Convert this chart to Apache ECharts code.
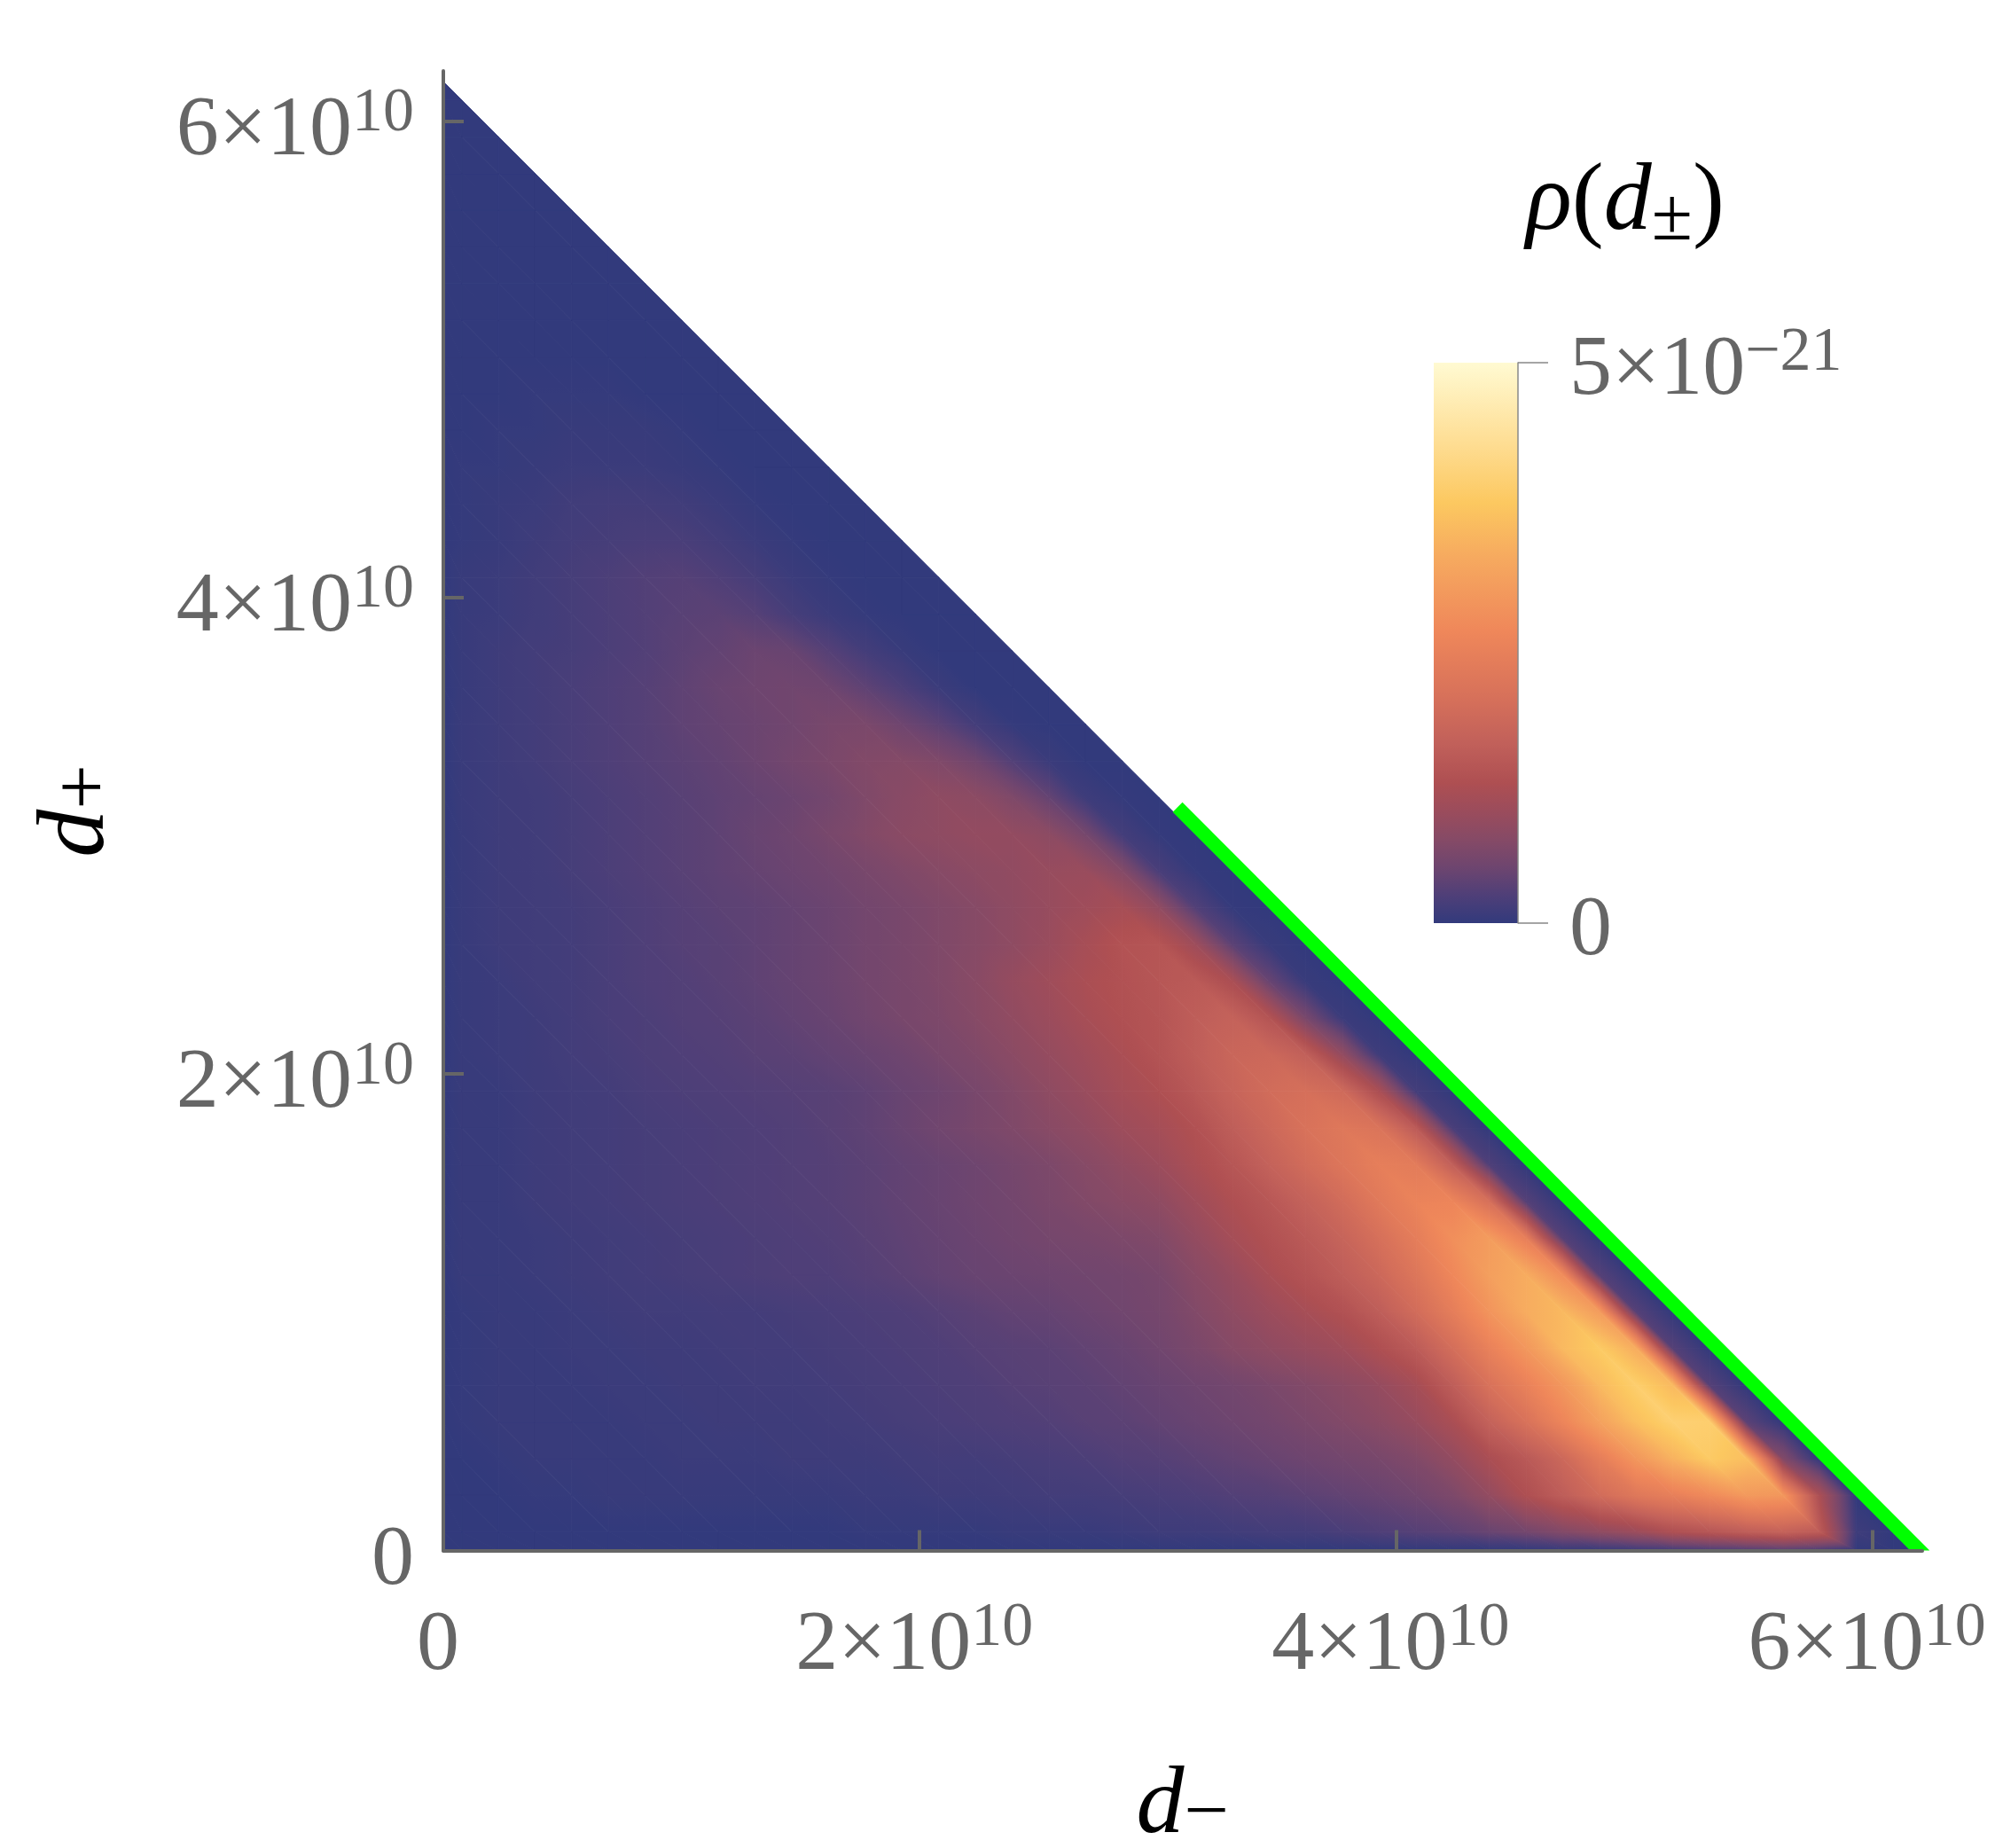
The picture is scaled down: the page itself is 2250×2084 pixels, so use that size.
<!DOCTYPE html>
<html>
<head>
<meta charset="utf-8">
<style>
  html, body { margin: 0; background: #fff; }
  #chart { width: 2250px; height: 2084px; }
</style>
<script src="https://cdn.jsdelivr.net/npm/echarts@6/dist/echarts.min.js"></script>
</head>
<body>
<div id="chart"></div>
<script>
// axis ticks
const axisTicks = [0, 2e10, 4e10, 6e10];
const colorbarTicks = [0, 5e-21];
const axisMax = 6.21e10;
const triangleLeg = 6.165e10;
const greenEdge = [3.083e10, 3.12e10, 6.2e10, 0];

// colour scale of the legend, position in percent of 5e-21
const rampPos = [0, 5, 10, 15, 20, 25, 32, 40, 52, 65, 75, 85, 100];
const rampHex = ['#323a7c', '#4f3f78', '#6e456f', '#864a66', '#9b4c5c', '#ae4f52', '#c1605a',
  '#d6705a', '#ef875a', '#f6a95f', '#fcc860', '#fedc90', '#fffad2'];

// density, percent of 5e-21. first row is half a step above the d- axis,
// each row one point shorter because of the diagonal, last point of a row sits on the diagonal
const densityRows = [
  [0,0,0,0,0,0,0,0,0,0,0,.5,.5,.5,.5,1,1,1,1.5,2,2,2.5,3,3,4,5,6,7,9,11,14,17,20,25,28,31,33,30,2,0],
  [0,0,.5,.5,1,1,1,1,1,1,1,1.5,1.5,2,2,2.5,3,3,3.5,4,4.5,5.5,6,7,8,9,10.5,13,18,25,31,38,44,48,53,59,58,24,0],
  [0,.5,1,1,1,1,1.5,1.5,1.5,2,2,2,2.5,3,3,3.5,4,4.5,5.5,6,7,8,9,10,11,12,14,18,24,29,36,47,58,68,76,72,14,0],
  [.5,1,1,1,1,1.5,1.5,2,2,2,2.5,3,3.5,4,4.5,5,5.5,6.5,7,8,9,10,11,12.5,14,16,19,24,33,41,51,62,72,79,78,7,0],
  [.5,1,1,1,1.5,1.5,2,2,2.5,2.5,3,3.5,4,4.5,5,6,6.5,7,8,9,10,11,12.5,14,16,18.5,22.5,31,41,49,58,70,78,70,6,0],
  [.5,1,1,1.5,1.5,2,2,2.5,3,3,3.5,4,4.5,5,6,6.5,7,8,9,10.5,12.5,15,17,19,21,25,30,39,49,58,70,76,66,6,0],
  [.5,1,1,1.5,2,2.5,2.5,3,3,3.5,4,4.5,5,6,7,8,8.5,9.5,10.5,11.5,14,17,20,23,26,31,38,47,57,66,70,60,6,0],
  [1,1,1.5,2,2.5,3,3.5,4,4.5,5,5,6,7,8,9,9.5,10,10.5,11,12,15.5,19,23.5,27,31,36,43,52,61,66,54,6,0],
  [1,1,1.5,2,2.5,3,3.5,4,4.5,5,5.5,6.5,7.5,8.5,9.5,10.5,11.5,12,13,14,18,22.5,26,29.5,34,40,47,55,60,48,6,0],
  [1,1,2,2.5,3,3.5,4,4.5,5,5.5,6,7,8,9,10,11,12.5,14,15.5,17,21,25,28.5,33,38,45,50,51,40,6,0],
  [1,1,2,2.5,3,3.5,4,4.5,5,5.5,6,7,8,9,10,11.5,13,15,17.5,20,24,28,33,38,43,47.5,46,32,5,0],
  [1,1,2,2.5,3,3.5,4,4.5,5,5.5,6.5,7.5,9,10.5,12,13.5,15.5,17.5,20.5,22.5,26,31,36,41,44,42,30,4,0],
  [1,1,2,2.5,3,4,4.5,5,5.5,6,6.5,7.5,9,10,12,14,17,19.5,22.5,25,29,34,38,39.5,37,24,3,0],
  [1,1.5,2,3,3.5,4.5,5,5.5,6.5,7,8,9,10,12,13.5,16,18.5,21,24,27,31,35,36,32,18,2,0],
  [1,1.5,2,3,4,4.5,5.5,6,7,8,9,10.5,12,13,15,17.5,20,23,25.5,27.5,31,33,27,12,1.5,0],
  [1,1.5,2.5,3,4,5,5.5,6.5,7.5,8.5,9.5,11,12,13.5,15.5,18.5,21,24,26,28,29.5,24,9,1,0],
  [1,2,2.5,3,4,5,6,6.5,7.5,8.5,9.5,11,12,13.5,15,17,19.5,23,26.5,27.5,20.5,7,1,0],
  [1,2,2.5,3,4,5,6,7,7.5,8.5,9.5,11,12,13.5,15,17,19,21,23,17.5,5.5,.5,0],
  [1,2,2.5,3.5,4.5,5.5,6.5,7.5,8.5,9.5,10.5,12,13.5,15,16.5,17.5,19,19.5,14.5,4,.5,0],
  [1,2,2.5,3.5,4.5,5.5,6.5,7.5,9,10,12,14,16,17,18,18,16.5,11.5,3,.5,0],
  [1.2,2,2.5,3.5,4.5,5.5,6.5,7.5,8.5,9.5,11,13.5,15.5,17,16.5,13.5,8.5,2,.5,0],
  [1.2,2,3,4,5,6,7,8,9.5,11,12.5,14,14.5,13.5,10.5,5.5,1.5,0,0],
  [1.2,2,3,4,5,6,7.5,8.5,9.5,10.5,12,12.5,10,7,3,.5,0,0],
  [1,2,3,4,5,6,7.5,9,10,10.5,10,7.5,4.5,1.5,0,0,0],
  [1,2,3,3.5,4.5,5.5,7,8,9.5,9,6,3,1,0,0,0],
  [1,1.5,2.5,3.5,4.5,5.5,6.5,7,6,3.5,1.5,.5,0,0,0],
  [1,1.5,2.5,3.5,4.5,5.5,6,5,3.5,1.5,.5,0,0,0],
  [.5,1,2,3,3.5,4,4,3,1.5,.5,0,0,0],
  [.5,1,1.5,2.5,3,3,2.5,1.5,.5,0,0,0],
  [.5,.5,1,1.5,1.5,1.5,1,.5,0,0,0],
  [0,.5,.5,1,1,1,.5,0,0,0],
  [0,0,.5,.5,.5,0,0,0,0],
  [0,0,0,0,0,0,0,0],
  [0,0,0,0,0,0,0],
  [0,0,0,0,0,0],
  [0,0,0,0,0],
  [0,0,0,0],
  [0,0,0],
  [0,0],
  [0]
];
// values right on the two axes
const leftEdge = new Array(42).fill(0);
const bottomEdge = [0,0,0,0,0,0,0,0,0,0,0,0,0,0,0,0,0,0,0,0,0,0,0,0,0,0,0,0,0,0,
  0,1,1,2,3,4,5,6,4,0,0,0];

const stepCount = densityRows.length;
const step = triangleLeg / stepCount;
const serif = '"Liberation Serif", "DejaVu Serif", serif';
const gray = '#666666';

const rampRgb = rampHex.map(h => [1, 3, 5].map(k => parseInt(h.substr(k, 2), 16)));

function rampColor(v) {
  v = Math.max(0, Math.min(100, v));
  let k = 0;
  while (k < rampPos.length - 2 && v > rampPos[k + 1]) k++;
  const t = (v - rampPos[k]) / (rampPos[k + 1] - rampPos[k]);
  const c = rampRgb[k].map((a, n) => Math.round(a + (rampRgb[k + 1][n] - a) * t));
  return 'rgb(' + c.join(',') + ')';
}

// sample points: on the axes, then half a step in, then every step, ending at the leg
function nodePos(n) {
  if (n === 0) return 0;
  return n > stepCount ? stepCount * step : (n - 0.5) * step;
}

function nodeValue(a, b) {
  if (a === 0) return leftEdge[b];
  if (b === 0) return bottomEdge[a];
  return densityRows[b - 1][a - 1];
}

function drawTriangle(params, api) {
  const nodes = [[api.value(2), api.value(3)], [api.value(4), api.value(5)], [api.value(6), api.value(7)]];
  const pts = nodes.map(n => api.coord([nodePos(n[0]), nodePos(n[1])]));
  const vals = nodes.map(n => nodeValue(n[0], n[1]));
  const [p0, p1, p2] = pts;
  const det = (p1[0] - p0[0]) * (p2[1] - p0[1]) - (p2[0] - p0[0]) * (p1[1] - p0[1]);
  const gx = ((vals[1] - vals[0]) * (p2[1] - p0[1]) - (vals[2] - vals[0]) * (p1[1] - p0[1])) / det;
  const gy = ((vals[2] - vals[0]) * (p1[0] - p0[0]) - (vals[1] - vals[0]) * (p2[0] - p0[0])) / det;
  const g2 = gx * gx + gy * gy;
  const low = Math.min(...vals), high = Math.max(...vals);
  let fill = rampColor(low);
  if (high > low) {
    // a triangle holds one linear slope, so one linear gradient shades it exactly
    const start = pts[vals.indexOf(low)];
    const range = high - low;
    const stops = [];
    for (let s = 0; s <= 6; s++) {
      stops.push({ offset: s / 6, color: rampColor(low + range * s / 6) });
    }
    fill = new echarts.graphic.LinearGradient(start[0], start[1],
      start[0] + gx * range / g2, start[1] + gy * range / g2, stops, true);
  }
  return { type: 'polygon', shape: { points: pts }, style: { fill: fill, stroke: fill, lineWidth: 1 } };
}

function drawGreen(params, api) {
  const a = api.coord([api.value(0), api.value(1)]);
  const b = api.coord([api.value(2), api.value(3)]);
  const w = 15.5;
  const dx = b[0] - a[0], dy = b[1] - a[1], len = Math.sqrt(dx * dx + dy * dy);
  const ox = dy / len * w / 2, oy = -dx / len * w / 2;
  const foot = w / Math.SQRT2;
  return {
    type: 'polygon',
    shape: { points: [[a[0] + ox, a[1] + oy], [b[0] + foot, b[1]], [b[0] - foot, b[1]], [a[0] - ox, a[1] - oy]] },
    style: { fill: '#00ff00' }
  };
}

function drawLegendBar(params, api) {
  const top = api.coord([0, colorbarTicks[1]]);
  const bottom = api.coord([1, colorbarTicks[0]]);
  const stops = rampPos.map((p, k) => ({ offset: 1 - p / 100, color: rampHex[k] })).reverse();
  return {
    type: 'rect',
    shape: { x: top[0], y: top[1], width: bottom[0] - top[0], height: bottom[1] - top[1] },
    style: { fill: new echarts.graphic.LinearGradient(0, 0, 0, 1, stops) }
  };
}

// mesh of the sample points, quads cut along the direction of the diagonal
const triangles = [];
const hasNode = (a, b) => nodePos(a) + nodePos(b) <= stepCount * step * 1.0001;
for (let b = 0; b <= stepCount; b++) {
  for (let a = 0; a <= stepCount; a++) {
    if (hasNode(a + 1, b) && hasNode(a, b + 1)) {
      triangles.push([nodePos(a), nodePos(b), a, b, a + 1, b, a, b + 1]);
      if (hasNode(a + 1, b + 1)) {
        triangles.push([nodePos(a + 1), nodePos(b + 1), a + 1, b, a + 1, b + 1, a, b + 1]);
      }
    }
  }
}

const tickRich = {
  m: { fontFamily: serif, fontSize: 96, color: gray, lineHeight: 110 },
  s: { fontFamily: serif, fontSize: 70, color: gray, lineHeight: 47, verticalAlign: 'top' }
};
const bigTick = v => v === 0 ? '{m|0}' : '{m|' + v / 1e10 + '×10}{s|10}';
const smallTick = v => v === 0 ? '{m|0}' : '{m|5×10}{s|−21}';
const nameRich = {
  d: { fontFamily: serif, fontStyle: 'italic', fontSize: 108, color: '#000', lineHeight: 110 },
  u: { fontFamily: serif, fontSize: 90, color: '#000', lineHeight: 56, verticalAlign: 'bottom' }
};

const axisBase = {
  type: 'value', min: 0, max: axisMax, z: 5, splitLine: { show: false },
  axisLine: { onZero: false, lineStyle: { color: gray, width: 4 } },
  axisTick: { inside: true, length: 23, customValues: axisTicks, lineStyle: { color: gray, width: 4 } }
};

const chart = echarts.init(document.getElementById('chart'), null, { renderer: 'canvas' });
chart.setOption({
  animation: false,
  backgroundColor: '#fff',
  title: {
    left: 1716, top: 165,
    text: '{r|ρ}{p|(}{d|d}{u|±}{p|)}',
    textStyle: {
      fontWeight: 'normal',
      rich: {
        r: { fontFamily: serif, fontStyle: 'italic', fontWeight: 'normal', fontSize: 108, color: '#000', lineHeight: 120 },
        p: { fontFamily: serif, fontWeight: 'normal', fontSize: 108, color: '#000', lineHeight: 120 },
        d: { fontFamily: serif, fontStyle: 'italic', fontWeight: 'normal', fontSize: 108, color: '#000', lineHeight: 120 },
        u: { fontFamily: serif, fontWeight: 'normal', fontSize: 84, color: '#000', lineHeight: 70, verticalAlign: 'bottom' }
      }
    }
  },
  grid: [
    { left: 500, top: 80, width: 1668, height: 1668.5, outerBoundsMode: 'none' },
    { left: 1617, top: 409, width: 95, height: 632, outerBoundsMode: 'none' }
  ],
  xAxis: [
    Object.assign({}, axisBase, {
      name: '{d|d}{u|−}',
      nameLocation: 'middle', nameGap: 234,
      nameTextStyle: { rich: nameRich },
      axisLabel: { customValues: axisTicks, margin: 53, padding: [0, 12, 0, 0], formatter: bigTick, rich: tickRich }
    }),
    { gridIndex: 1, type: 'value', min: 0, max: 1, show: false }
  ],
  yAxis: [
    Object.assign({}, axisBase, {
      name: '{d|d}{u|+}',
      nameLocation: 'middle', nameGap: 357,
      nameTextStyle: { rich: nameRich },
      axisLabel: { customValues: axisTicks, margin: 33, padding: [24, 0, 0, 0], formatter: bigTick, rich: tickRich }
    }),
    {
      gridIndex: 1, type: 'value', position: 'right', min: colorbarTicks[0], max: colorbarTicks[1], z: 5,
      splitLine: { show: false },
      axisLine: { show: true, onZero: false, lineStyle: { color: '#888888', width: 1.5 } },
      axisTick: { show: true, length: 34, customValues: colorbarTicks, lineStyle: { color: '#888888', width: 1.5 } },
      axisLabel: { customValues: colorbarTicks, margin: 58, padding: [20, 0, 0, 0], formatter: smallTick, rich: tickRich }
    }
  ],
  series: [
    {
      name: 'density', type: 'custom', coordinateSystem: 'cartesian2d', xAxisIndex: 0, yAxisIndex: 0,
      z: 1, silent: true, clip: false, progressive: 0,
      encode: { x: 0, y: 1 }, data: triangles, renderItem: drawTriangle
    },
    {
      name: 'edge', type: 'custom', coordinateSystem: 'cartesian2d', xAxisIndex: 0, yAxisIndex: 0,
      z: 2, silent: true, clip: false,
      data: [greenEdge], renderItem: drawGreen
    },
    {
      name: 'legend', type: 'custom', coordinateSystem: 'cartesian2d', xAxisIndex: 1, yAxisIndex: 1,
      z: 1, silent: true,
      data: [[0, 0]], renderItem: drawLegendBar
    }
  ]
});
</script>
</body>
</html>
